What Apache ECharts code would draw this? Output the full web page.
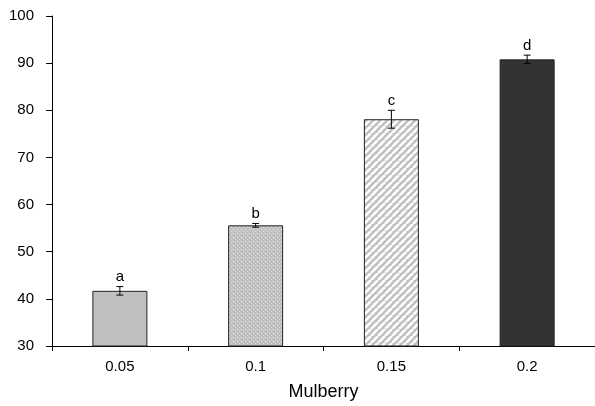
<!DOCTYPE html>
<html>
<head>
<meta charset="utf-8">
<script src="https://cdn.jsdelivr.net/npm/echarts@6/dist/echarts.min.js"></script>
<style>html,body{margin:0;padding:0;background:#fff;}#c{width:595px;height:406px;}</style>
</head>
<body>
<div id="c"></div>
<script>
const categories = ['0.05', '0.1', '0.15', '0.2'];
const values = [41.7, 55.6, 78.1, 90.8];
const errors = [0.9, 0.4, 1.9, 0.9];
const letters = ['a', 'b', 'c', 'd'];
const yTicks = [30, 40, 50, 60, 70, 80, 90, 100];
const xName = 'Mulberry';

function dotPattern() {
  const c = document.createElement('canvas');
  c.width = 4; c.height = 4;
  const g = c.getContext('2d');
  g.fillStyle = '#c0c0c0'; g.fillRect(0, 0, 4, 4);
  g.fillStyle = '#f0f0f0'; g.fillRect(1, 1, 1, 1);
  g.fillStyle = '#dcdcdc'; g.fillRect(3, 3, 1, 1);
  return c;
}
function stripePattern() {
  const c = document.createElement('canvas');
  const p = 7;
  c.width = p; c.height = p;
  const g = c.getContext('2d');
  g.fillStyle = '#c0c0c0'; g.fillRect(0, 0, p, p);
  g.strokeStyle = '#ffffff'; g.lineWidth = 2.6;
  for (let k = -1; k <= 1; k++) {
    g.beginPath();
    g.moveTo(k * p, p);
    g.lineTo(k * p + p, 0);
    g.stroke();
  }
  return c;
}

const fills = [
  '#c0c0c0',
  { image: dotPattern(), repeat: 'repeat' },
  { image: stripePattern(), repeat: 'repeat' },
  '#333333'
];

const chart = echarts.init(document.getElementById('c'), null, { renderer: 'canvas' });
const font = 'Liberation Sans, Arial, sans-serif';

chart.setOption({
  animation: false,
  grid: { left: 52, right: -5, top: 16, bottom: 59, containLabel: false },
  xAxis: {
    type: 'category',
    data: categories,
    name: xName,
    nameLocation: 'middle',
    nameGap: 37,
    nameTextStyle: { fontFamily: font, fontSize: 18, color: '#000' },
    axisLine: { lineStyle: { color: '#000', width: 1 } },
    axisTick: { show: true, length: 5, lineStyle: { color: '#000' } },
    axisLabel: { fontFamily: font, fontSize: 15, color: '#000', margin: 13 },
    boundaryGap: true
  },
  yAxis: {
    type: 'value',
    min: yTicks[0],
    max: yTicks[yTicks.length - 1],
    interval: 10,
    splitLine: { show: false },
    axisLine: { show: true, lineStyle: { color: '#000', width: 1 } },
    axisTick: { show: true, length: 6, lineStyle: { color: '#000' } },
    axisLabel: { fontFamily: font, fontSize: 15, color: '#000', margin: 18 }
  },
  series: [
    {
      type: 'bar',
      barWidth: 55,
      data: values.map((v, i) => ({
        value: v,
        itemStyle: { color: fills[i], borderColor: '#222', borderWidth: 1 }
      })),
      z: 2
    },
    {
      type: 'custom',
      data: values.map((v, i) => [i, v, errors[i]]),
      z: 5,
      renderItem: function (params, api) {
        const i = api.value(0), v = api.value(1), e = api.value(2);
        const top = api.coord([i, v + e]);
        const bot = api.coord([i, v - e]);
        const hw = 3.5;
        const style = { stroke: '#000', lineWidth: 1 };
        return {
          type: 'group',
          children: [
            { type: 'line', shape: { x1: top[0], y1: top[1], x2: bot[0], y2: bot[1] }, style: style },
            { type: 'line', shape: { x1: top[0] - hw, y1: top[1], x2: top[0] + hw, y2: top[1] }, style: style },
            { type: 'line', shape: { x1: bot[0] - hw, y1: bot[1], x2: bot[0] + hw, y2: bot[1] }, style: style },
            {
              type: 'text',
              style: {
                text: letters[params.dataIndex],
                x: top[0], y: top[1] - 2,
                textAlign: 'center', textVerticalAlign: 'bottom',
                font: '15px ' + font, fill: '#000'
              }
            }
          ]
        };
      }
    }
  ]
});
</script>
</body>
</html>
